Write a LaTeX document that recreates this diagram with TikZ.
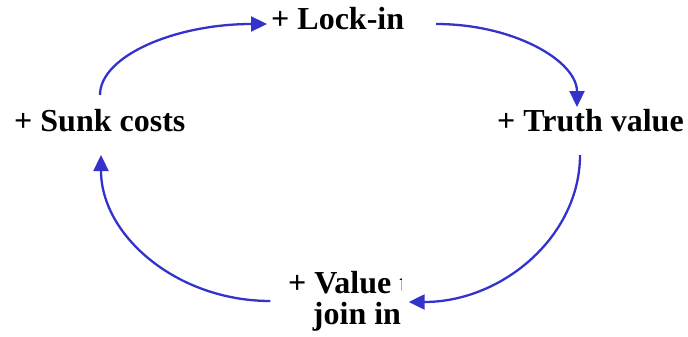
\documentclass[tikz,border=0pt]{standalone}
\usepackage{fontspec}
\setmainfont{Liberation Serif}
\usetikzlibrary{arrows.meta}
\definecolor{loopblue}{RGB}{51,51,204}
\tikzset{
  lbl/.style={font=\fontsize{32}{31}\selectfont\bfseries, inner sep=0pt, text=black},
  arr/.style={draw=loopblue, line width=2.3pt, -{Triangle[length=16pt,width=15pt]}, fill=none}
}
\begin{document}
\begin{tikzpicture}[x=1pt,y=-1pt]
\useasboundingbox (0,0) rectangle (688,337);
\node[lbl, anchor=base west] (lock) at (271,30) {+ Lock-in};
\node[lbl, anchor=base west] (sunk) at (14,131) {+ Sunk costs};
\node[lbl, anchor=base west] (truth) at (497,131) {+ Truth value};
\begin{scope}
  \clip (0,0) rectangle (401.5,337);
  \node[lbl, anchor=north, align=center] (value) at (357,271.4) {+ Value to\\join in};
\end{scope}
\draw[arr] ([xshift=86pt,yshift=36pt]sunk.base west)
  .. controls +(0,-39) and +(-92,0) .. ([xshift=-4pt,yshift=6pt]lock.base west);
\draw[arr] ([xshift=165pt,yshift=6pt]lock.base west)
  .. controls +(78,0) and +(0,-46) .. ([xshift=80pt,yshift=24pt]truth.base west);
\draw[arr] ([xshift=83pt,yshift=-24pt]truth.base west)
  .. controls +(0,81) and +(94,0) .. ([xshift=-17.5pt,yshift=-30.6pt]value.north east);
\draw[arr] ([xshift=-17.5pt,yshift=-29.6pt]value.north west)
  .. controls +(-93,0) and +(0,81) .. ([xshift=87pt,yshift=-24pt]sunk.base west);
\end{tikzpicture}
\end{document}
